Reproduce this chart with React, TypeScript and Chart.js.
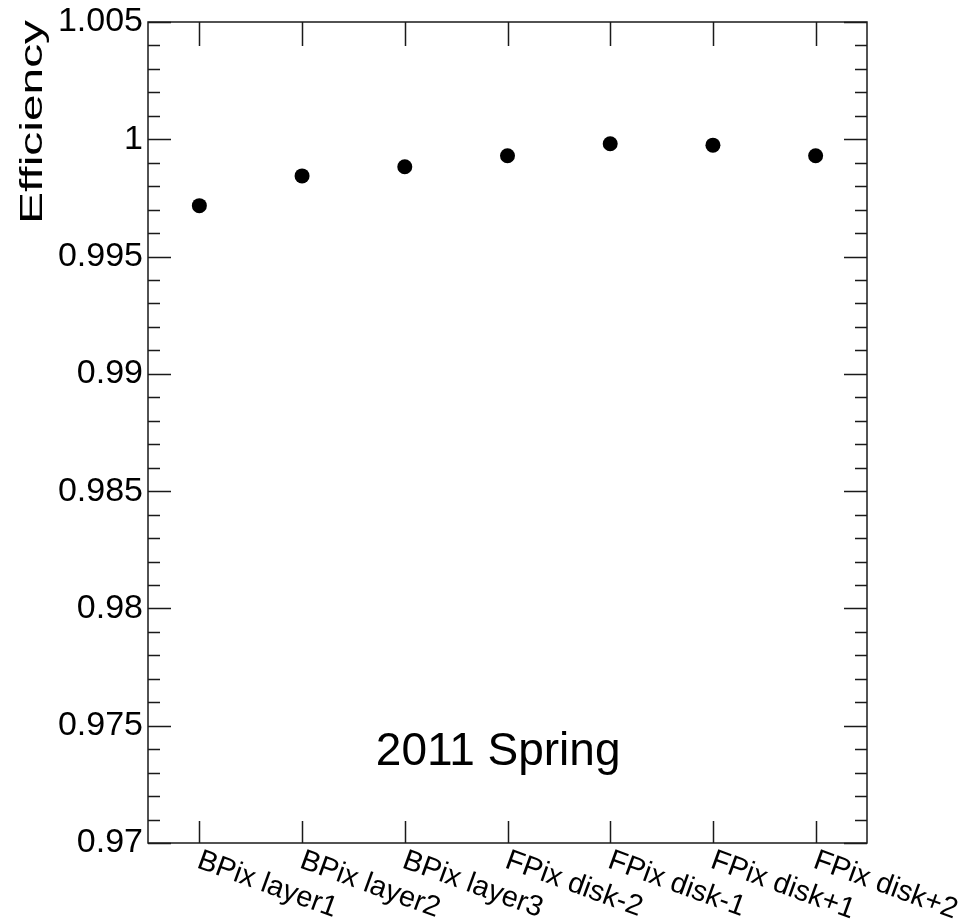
import React, { useEffect, useRef } from "react";
import { Chart, registerables } from "chart.js";

Chart.register(...registerables);

const categories = [
  "BPix layer1",
  "BPix layer2",
  "BPix layer3",
  "FPix disk-2",
  "FPix disk-1",
  "FPix disk+1",
  "FPix disk+2",
];
const efficiency = [0.99717, 0.99844, 0.99883, 0.9993, 0.99981, 0.99975, 0.9993];
const yMin = 0.97;
const yMax = 1.005;
const yMajorStep = 0.005;
const yMinorStep = 0.001;
const yTitle = "Efficiency";
const periodLabel = "2011 Spring";

const FONT = '"Liberation Sans", Arial, Helvetica, sans-serif';

const framePlugin = {
  id: "rootFrame",
  afterDraw(chart: any) {
    const ctx = chart.ctx;
    const { left, right, top, bottom } = chart.chartArea;
    const xs = chart.scales.x;
    const ys = chart.scales.y;
    ctx.save();
    ctx.strokeStyle = "#1a1a1a";
    ctx.lineWidth = 1.5;
    ctx.strokeRect(left, top, right - left, bottom - top);

    const n = Math.round((yMax - yMin) / yMinorStep);
    const per = Math.round(yMajorStep / yMinorStep);
    ctx.beginPath();
    for (let i = 0; i <= n; i++) {
      const v = yMin + i * yMinorStep;
      const y = Math.round(ys.getPixelForValue(v)) + 0.5;
      const len = i % per === 0 ? 23 : 12;
      ctx.moveTo(left, y);
      ctx.lineTo(left + len, y);
      ctx.moveTo(right, y);
      ctx.lineTo(right - len, y);
    }
    categories.forEach((_, i) => {
      const x = Math.round(xs.getPixelForValue(i)) + 0.5;
      ctx.moveTo(x, top);
      ctx.lineTo(x, top + 24);
      ctx.moveTo(x, bottom);
      ctx.lineTo(x, bottom - 22);
    });
    ctx.stroke();

    ctx.fillStyle = "#000";
    ctx.font = `29px ${FONT}`;
    ctx.textAlign = "left";
    ctx.textBaseline = "top";
    categories.forEach((lab, i) => {
      const x = xs.getPixelForValue(i);
      ctx.save();
      ctx.translate(x + 4, bottom + 3);
      ctx.rotate((20 * Math.PI) / 180);
      ctx.fillText(lab, 0, 0);
      ctx.restore();
    });

    ctx.save();
    ctx.font = `32px ${FONT}`;
    const w = ctx.measureText(yTitle).width;
    const target = 204;
    ctx.translate(42, 20);
    ctx.rotate(-Math.PI / 2);
    ctx.scale(target / w, 1);
    ctx.textAlign = "right";
    ctx.textBaseline = "alphabetic";
    ctx.fillText(yTitle, 0, 0);
    ctx.restore();

    ctx.font = `46px ${FONT}`;
    ctx.textAlign = "center";
    ctx.textBaseline = "alphabetic";
    ctx.fillText(periodLabel, left + (right - left) * 0.487, ys.getPixelForValue(0.97333));
    ctx.restore();
  },
};

export default function App() {
  const ref = useRef<HTMLCanvasElement | null>(null);
  useEffect(() => {
    if (!ref.current) return;
    const chart = new Chart(ref.current, {
      type: "line",
      data: {
        labels: categories,
        datasets: [
          {
            data: efficiency,
            showLine: false,
            pointRadius: 7.5,
            pointHoverRadius: 7.5,
            pointStyle: "circle",
            backgroundColor: "#000",
            borderColor: "#000",
            borderWidth: 0,
          },
        ],
      },
      options: {
        responsive: false,
        animation: false,
        layout: { padding: { top: 22, right: 104, left: 0, bottom: 0 } },
        plugins: { legend: { display: false }, tooltip: { enabled: false } },
        scales: {
          x: {
            type: "category",
            offset: true,
            grid: { display: false, drawTicks: false },
            border: { display: false },
            ticks: { display: false },
            afterFit: (s: any) => {
              s.height = 79;
              s.paddingLeft = 0;
              s.paddingRight = 0;
            },
          },
          y: {
            type: "linear",
            min: yMin,
            max: yMax,
            grid: { display: false, drawTicks: false },
            border: { display: false },
            ticks: {
              stepSize: yMajorStep,
              padding: 5,
              color: "#000",
              font: { family: FONT, size: 34, lineHeight: 1 },
              callback: (v: any) => parseFloat(Number(v).toFixed(3)).toString(),
            },
            afterFit: (s: any) => {
              s.width = 148;
              s.paddingTop = 0;
              s.paddingBottom = 0;
            },
          },
        },
      },
      plugins: [framePlugin],
    });
    return () => chart.destroy();
  }, []);
  return (
    <div style={{ position: "fixed", left: 0, top: 0, width: 971, height: 922, background: "#fff" }}>
      <canvas ref={ref} width={971} height={922} style={{ width: 971, height: 922, display: "block" }} />
    </div>
  );
}
